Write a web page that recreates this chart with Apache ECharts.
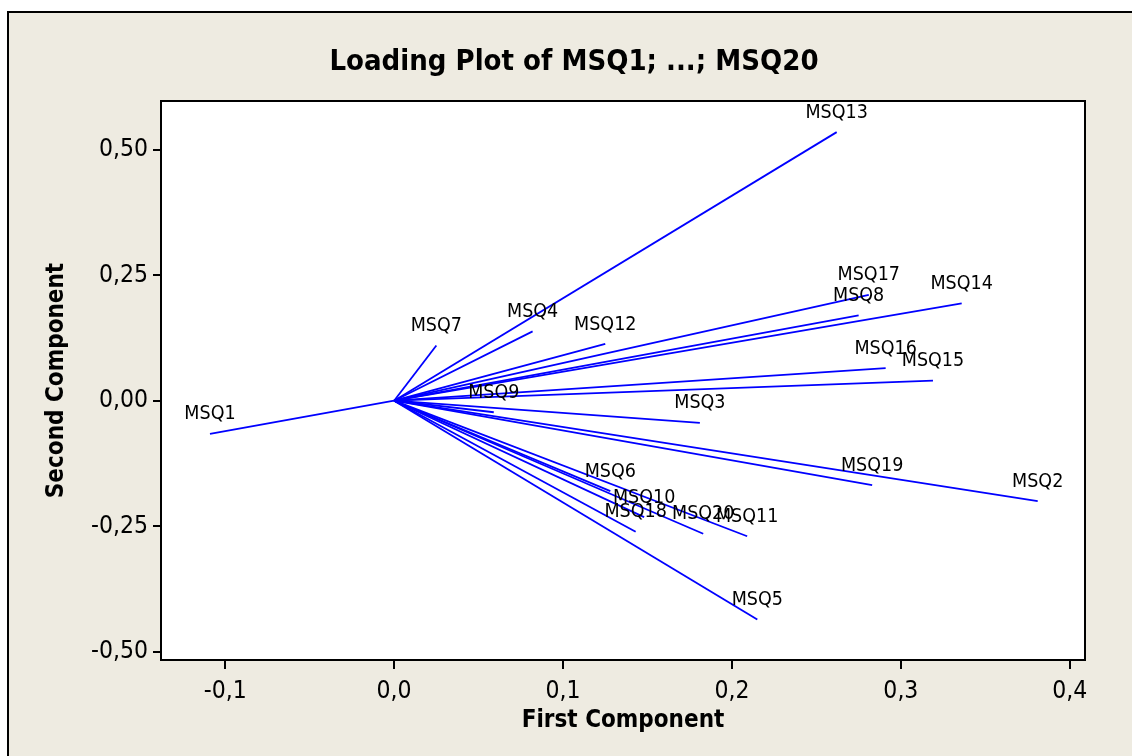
<!DOCTYPE html>
<html>
<head>
<meta charset="utf-8">
<script src="https://cdn.jsdelivr.net/npm/echarts@6/dist/echarts.min.js"></script>
<style>
html,body{margin:0;padding:0;background:#fff;}
#chart{width:1132px;height:756px;}
</style>
</head>
<body>
<div id="chart"></div>
<script>
const names = ['MSQ1','MSQ2','MSQ3','MSQ4','MSQ5','MSQ6','MSQ7','MSQ8','MSQ9','MSQ10',
               'MSQ11','MSQ12','MSQ13','MSQ14','MSQ15','MSQ16','MSQ17','MSQ18','MSQ19','MSQ20'];
const firstComponent = [-0.109, 0.381, 0.181, 0.082, 0.215, 0.128, 0.025, 0.275, 0.059, 0.148,
                        0.209, 0.125, 0.262, 0.336, 0.319, 0.291, 0.281, 0.143, 0.283, 0.183];
const secondComponent = [-0.066, -0.200, -0.044, 0.138, -0.436, -0.180, 0.110, 0.170, -0.023, -0.232,
                         -0.270, 0.113, 0.535, 0.194, 0.040, 0.065, 0.211, -0.261, -0.168, -0.265];
const xTicks = [-0.1, 0.0, 0.1, 0.2, 0.3, 0.4];
const yTicks = [-0.5, -0.25, 0.0, 0.25, 0.5];

const FONT = '"DejaVu Sans Condensed", "DejaVu Sans", sans-serif';
const chart = echarts.init(document.getElementById('chart'), null, {renderer: 'canvas'});

const lineData = names.map((n, i) => ({name: n, coords: [[0, 0], [firstComponent[i], secondComponent[i]]]}));
const labelData = names.map((n, i) => ({name: n, value: [firstComponent[i], secondComponent[i]]}));

chart.setOption({
  animation: false,
  backgroundColor: '#ffffff',
  graphic: [{
    type: 'rect', z: -10, silent: true,
    shape: {x: 8, y: 12, width: 1140, height: 760},
    style: {fill: '#eeebe1', stroke: '#000', lineWidth: 2}
  }],
  title: {
    text: 'Loading Plot of MSQ1; ...; MSQ20',
    left: 569, top: 43, textAlign: 'center',
    textStyle: {fontFamily: FONT, fontWeight: 'bold', fontSize: 29, color: '#000'}
  },
  grid: {
    left: 161, top: 101, right: 47, bottom: 96,
    show: true, backgroundColor: '#fff', borderColor: '#000', borderWidth: 2
  },
  xAxis: {
    type: 'value', min: -0.138, max: 0.409,
    name: 'First Component', nameLocation: 'middle', nameGap: 48,
    nameTextStyle: {fontFamily: FONT, fontWeight: 'bold', fontSize: 24, color: '#000'},
    axisLine: {show: false, onZero: false},
    splitLine: {show: false},
    axisTick: {show: true, customValues: xTicks, length: 9, lineStyle: {color: '#000', width: 2}},
    axisLabel: {customValues: xTicks, margin: 19, fontFamily: FONT, fontSize: 24.5, color: '#000',
      formatter: v => v.toFixed(1).replace('.', ',')}
  },
  yAxis: {
    type: 'value', min: -0.5165, max: 0.597,
    name: 'Second Component', nameLocation: 'middle', nameGap: 92,
    nameTextStyle: {fontFamily: FONT, fontWeight: 'bold', fontSize: 24, color: '#000'},
    axisLine: {show: false, onZero: false},
    splitLine: {show: false},
    axisTick: {show: true, customValues: yTicks, length: 8, lineStyle: {color: '#000', width: 2}},
    axisLabel: {customValues: yTicks, margin: 13, fontFamily: FONT, fontSize: 24.5, color: '#000',
      formatter: v => v.toFixed(2).replace('.', ',')}
  },
  series: [{
    type: 'lines',
    coordinateSystem: 'cartesian2d',
    polyline: false,
    silent: true,
    lineStyle: {color: '#0000ff', width: 1.8, opacity: 1},
    data: lineData
  }, {
    type: 'scatter',
    silent: true,
    symbol: 'circle',
    symbolSize: 1,
    itemStyle: {color: 'rgba(0,0,0,0)'},
    label: {
      show: true, position: 'top', distance: 9,
      formatter: p => p.name,
      fontFamily: FONT, fontSize: 19.5, color: '#000', opacity: 1
    },
    labelLayout: {hideOverlap: false},
    data: labelData
  }]
});
</script>
</body>
</html>
